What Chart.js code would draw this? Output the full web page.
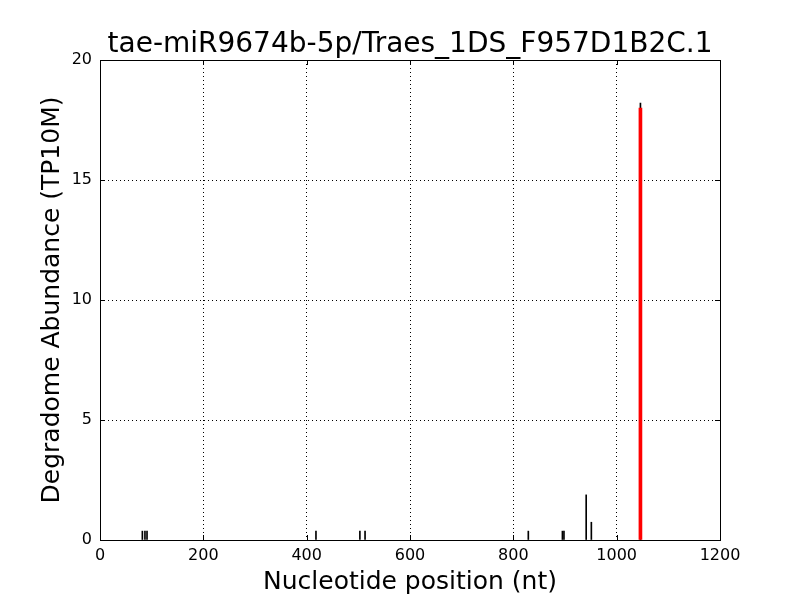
<!DOCTYPE html>
<html>
<head>
<meta charset="utf-8">
<script src="https://cdn.jsdelivr.net/npm/chart.js@4.4.1/dist/chart.umd.min.js"></script>
<style>
  html, body { margin: 0; padding: 0; background: #fff; }
  #wrap { width: 800px; height: 600px; }
</style>
</head>
<body>
<div id="wrap"><canvas id="chart" width="800" height="600"></canvas></div>
<script>
// degradome peaks (position in nt, abundance in TP10M)
const peakPositions = [82, 87, 91, 418, 503, 513, 829, 895, 898, 941, 951, 1046];
const peakValues = [0.37, 0.37, 0.37, 0.37, 0.37, 0.37, 0.37, 0.37, 0.37, 1.88, 0.74, 18.2];
// miRNA target site
const sitePositions = [1046];
const siteValues = [18.0];

const xTicks = [0, 200, 400, 600, 800, 1000, 1200];
const yTicks = [0, 5, 10, 15, 20];

const titleText = 'tae-miR9674b-5p/Traes_1DS_F957D1B2C.1';
const FONT = 'DejaVu Sans';

// title centred over the plot, frame + inward ticks (matplotlib classic look)
const framePlugin = {
  id: 'frame',
  afterDatasetsDraw(chart) {
    const { ctx, chartArea: a, scales } = chart;
    ctx.save();
    ctx.strokeStyle = '#000';
    ctx.lineWidth = 1;
    ctx.beginPath();
    xTicks.forEach(v => {
      const px = Math.round(scales.x.getPixelForValue(v)) + 0.5;
      ctx.moveTo(px, a.bottom); ctx.lineTo(px, a.bottom - 5);
      ctx.moveTo(px, a.top); ctx.lineTo(px, a.top + 5);
    });
    yTicks.forEach(v => {
      const py = Math.round(scales.y.getPixelForValue(v)) + 0.5;
      ctx.moveTo(a.left, py); ctx.lineTo(a.left + 5, py);
      ctx.moveTo(a.right, py); ctx.lineTo(a.right - 5, py);
    });
    ctx.stroke();
    ctx.strokeRect(Math.round(a.left) + 0.5, Math.round(a.top) + 0.5,
      Math.round(a.right - a.left), Math.round(a.bottom - a.top));

    ctx.fillStyle = '#000';
    ctx.font = '28px "' + FONT + '"';
    ctx.textAlign = 'center';
    ctx.textBaseline = 'alphabetic';
    ctx.fillText(titleText, (a.left + a.right) / 2, a.top - 8);
    ctx.restore();
  }
};

new Chart(document.getElementById('chart'), {
  type: 'bar',
  data: {
    datasets: [
      {
        label: 'target site',
        data: sitePositions.map((x, i) => ({ x: x, y: siteValues[i] })),
        backgroundColor: '#ff0000',
        barThickness: 3,
        grouped: false,
        order: 0
      },
      {
        label: 'degradome',
        data: peakPositions.map((x, i) => ({ x: x, y: peakValues[i] })),
        backgroundColor: '#000000',
        barThickness: 1,
        grouped: false,
        order: 1
      }
    ]
  },
  options: {
    responsive: false,
    animation: false,
    layout: { padding: { left: 0, right: 80, top: 60, bottom: 0 } },
    plugins: {
      legend: { display: false },
      tooltip: { enabled: false },
      title: { display: false }
    },
    scales: {
      x: {
        type: 'linear',
        min: 0,
        max: 1200,
        offset: false,
        afterBuildTicks: s => { s.ticks = xTicks.map(v => ({ value: v })); },
        afterFit: s => { s.height = 60; },
        grid: { color: '#000', offset: false, drawTicks: false },
        border: { display: false, dash: [1, 3] },
        ticks: {
          color: '#000', padding: 6, font: { family: FONT, size: 16 },
          callback: v => String(v)
        },
        title: {
          display: true,
          text: 'Nucleotide position (nt)',
          color: '#000',
          font: { family: FONT, size: 25 },
          padding: { top: 0, bottom: 3 }
        }
      },
      y: {
        min: 0,
        max: 20,
        afterBuildTicks: s => { s.ticks = yTicks.map(v => ({ value: v })); },
        afterFit: s => { s.width = 100; },
        grid: { color: '#000', drawTicks: false },
        border: { display: false, dash: [1, 3] },
        ticks: {
          color: '#000', padding: 8, font: { family: FONT, size: 16 },
          callback: v => String(v)
        },
        title: {
          display: true,
          text: 'Degradome Abundance (TP10M)',
          color: '#000',
          font: { family: FONT, size: 25 },
          padding: { top: 37, bottom: 0 }
        }
      }
    }
  },
  plugins: [framePlugin]
});
</script>
</body>
</html>
